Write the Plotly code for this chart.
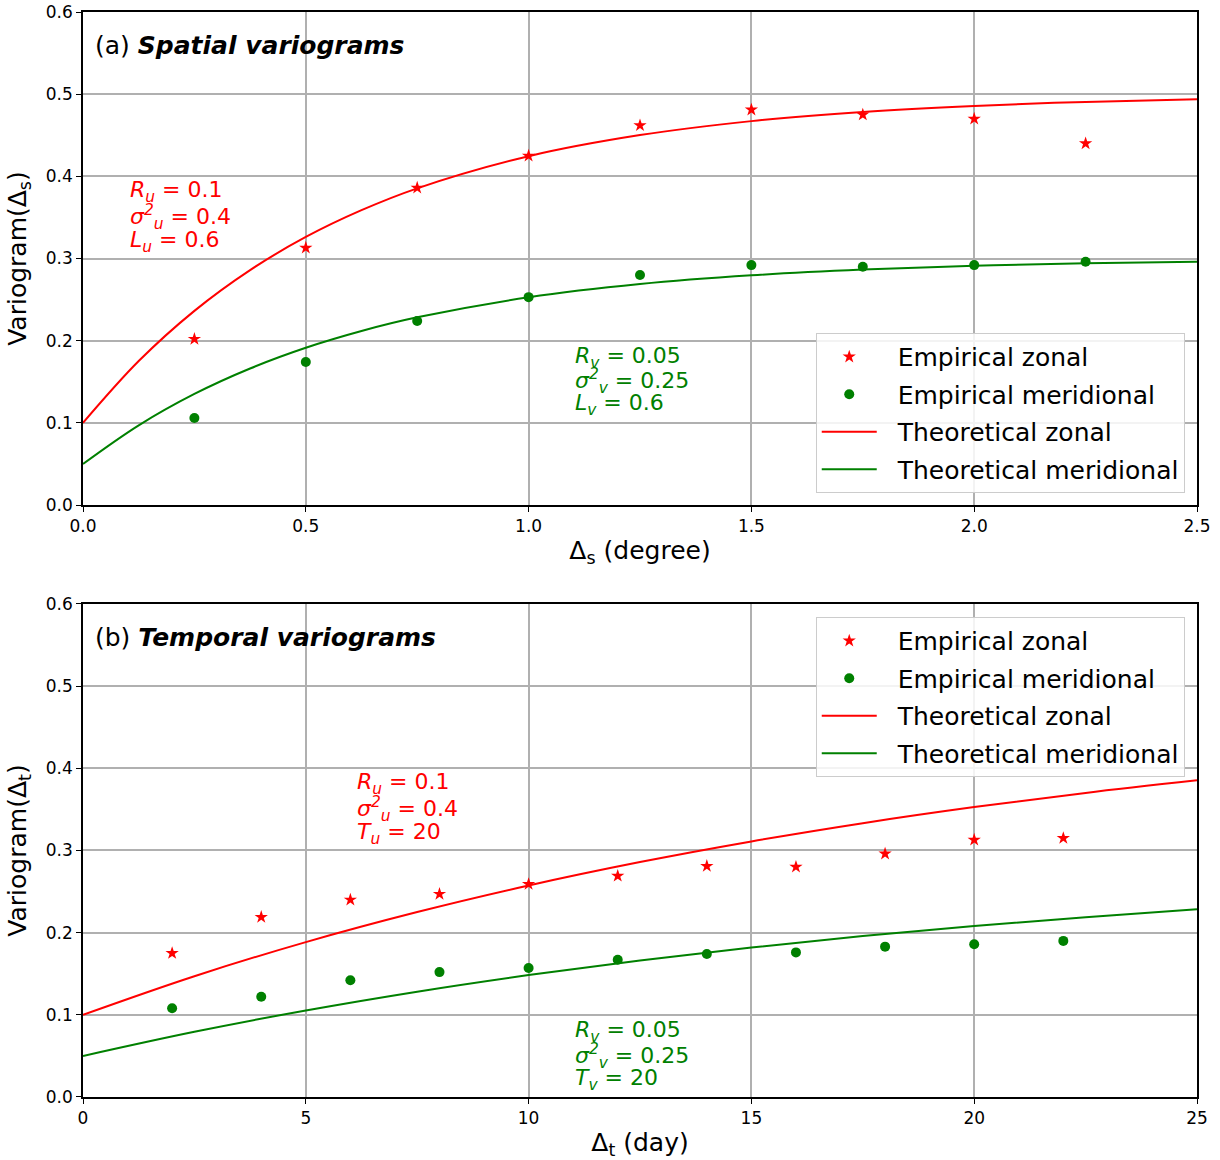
import plotly.graph_objects as go
from plotly.subplots import make_subplots

# ---- Panel (a): spatial ----
s_lag = [0.25, 0.5, 0.75, 1.0, 1.25, 1.5, 1.75, 2.0, 2.25]
s_emp_zonal = [0.202, 0.313, 0.386, 0.425, 0.462, 0.481, 0.475, 0.470, 0.440]
s_emp_merid = [0.106, 0.174, 0.224, 0.253, 0.280, 0.292, 0.290, 0.292, 0.296]
s_curve_x = [0, 0.125, 0.25, 0.375, 0.5, 0.625, 0.75, 1.0, 1.25, 1.5, 1.75, 2.0, 2.25, 2.5]
s_theo_zonal = [0.1, 0.1752, 0.2363, 0.2859, 0.3262, 0.3588, 0.3854, 0.4245, 0.4502, 0.4672, 0.4784, 0.4857, 0.4906, 0.4938]
s_theo_merid = [0.05, 0.0970, 0.1352, 0.1662, 0.1914, 0.2118, 0.2284, 0.2528, 0.2689, 0.2795, 0.2865, 0.2911, 0.2941, 0.2961]

# ---- Panel (b): temporal ----
t_lag = [2, 4, 6, 8, 10, 12, 14, 16, 18, 20, 22]
t_emp_zonal = [0.175, 0.219, 0.240, 0.247, 0.259, 0.269, 0.281, 0.280, 0.296, 0.313, 0.315]
t_emp_merid = [0.108, 0.122, 0.142, 0.152, 0.157, 0.167, 0.174, 0.176, 0.183, 0.186, 0.190]
t_curve_x = [0, 2.5, 5, 7.5, 10, 12.5, 15, 17.5, 20, 22.5, 25]
t_theo_zonal = [0.1, 0.1470, 0.1885, 0.2251, 0.2574, 0.2859, 0.3110, 0.3332, 0.3528, 0.3701, 0.3854]
t_theo_merid = [0.05, 0.0794, 0.1053, 0.1282, 0.1484, 0.1662, 0.1819, 0.1958, 0.2080, 0.2188, 0.2284]

# ---- Parameter labels ----
s_zonal_params = ["<i>R<sub>u</sub></i> = 0.1", "<i>σ<sup>2</sup><sub>u</sub></i> = 0.4", "<i>L<sub>u</sub></i> = 0.6"]
s_merid_params = ["<i>R<sub>v</sub></i> = 0.05", "<i>σ<sup>2</sup><sub>v</sub></i> = 0.25", "<i>L<sub>v</sub></i> = 0.6"]
t_zonal_params = ["<i>R<sub>u</sub></i> = 0.1", "<i>σ<sup>2</sup><sub>u</sub></i> = 0.4", "<i>T<sub>u</sub></i> = 20"]
t_merid_params = ["<i>R<sub>v</sub></i> = 0.05", "<i>σ<sup>2</sup><sub>v</sub></i> = 0.25", "<i>T<sub>v</sub></i> = 20"]

legend_names = ["Empirical zonal", "Empirical meridional", "Theoretical zonal", "Theoretical meridional"]

RED = "#ff0000"
GREEN = "#008000"
FONT = "DejaVu Sans"
PAD = "\u00a0\u00a0"

fig = make_subplots(rows=2, cols=1, vertical_spacing=0.0912)

def add_panel(row, xe, ez, em, xc, tz, tm, legend):
    fig.add_trace(go.Scatter(x=xe, y=ez, mode="markers", name=PAD + legend_names[0],
                             marker=dict(symbol="star", color=RED, size=10),
                             legend=legend, legendgroup=legend + "a"), row=row, col=1)
    fig.add_trace(go.Scatter(x=xe, y=em, mode="markers", name=PAD + legend_names[1],
                             marker=dict(symbol="circle", color=GREEN, size=10),
                             legend=legend, legendgroup=legend + "b"), row=row, col=1)
    fig.add_trace(go.Scatter(x=xc, y=tz, mode="lines", name=PAD + legend_names[2],
                             line=dict(color=RED, width=2, shape="spline"),
                             legend=legend, legendgroup=legend + "c"), row=row, col=1)
    fig.add_trace(go.Scatter(x=xc, y=tm, mode="lines", name=PAD + legend_names[3],
                             line=dict(color=GREEN, width=2, shape="spline"),
                             legend=legend, legendgroup=legend + "d"), row=row, col=1)

add_panel(1, s_lag, s_emp_zonal, s_emp_merid, s_curve_x, s_theo_zonal, s_theo_merid, "legend")
add_panel(2, t_lag, t_emp_zonal, t_emp_merid, t_curve_x, t_theo_zonal, t_theo_merid, "legend2")

axis_common = dict(showline=True, mirror=True, linecolor="black", linewidth=1.5,
                   ticks="outside", ticklen=5, tickwidth=1.2, tickcolor="black",
                   showgrid=True, gridcolor="#b0b0b0", gridwidth=1.5, zeroline=False,
                   automargin=False,
                   tickfont=dict(size=17, color="black", family=FONT))
fig.update_xaxes(**axis_common)
fig.update_yaxes(**axis_common)

fig.update_xaxes(range=[0, 2.5], dtick=0.5, tickformat=".1f",
                 title=dict(text="Δ<sub>s</sub> (degree)", font=dict(size=25), standoff=6), row=1, col=1)
fig.update_xaxes(range=[0, 25], dtick=5,
                 title=dict(text="Δ<sub>t</sub> (day)", font=dict(size=25), standoff=6), row=2, col=1)
fig.update_yaxes(range=[0, 0.6], dtick=0.1, tickformat=".1f",
                 title=dict(text="Variogram(Δ<sub>s</sub>)", font=dict(size=25), standoff=12), row=1, col=1)
fig.update_yaxes(range=[0, 0.6], dtick=0.1, tickformat=".1f",
                 title=dict(text="Variogram(Δ<sub>t</sub>)", font=dict(size=25), standoff=12), row=2, col=1)

legend_style = dict(font=dict(size=25, family=FONT, color="black"), bgcolor="rgba(255,255,255,0.85)",
                    bordercolor="#cccccc", borderwidth=1, xanchor="right", itemwidth=55,
                    tracegroupgap=2)

fig.update_layout(
    width=1220, height=1160,
    margin=dict(l=83, r=23, t=12, b=63, autoexpand=False),
    plot_bgcolor="white", paper_bgcolor="white",
    font=dict(family=FONT, color="black"),
    legend=dict(x=0.989, y=0.5567, yanchor="bottom", **legend_style),
    legend2=dict(x=0.989, y=0.4424, yanchor="top", **legend_style),
)

# Panel titles
fig.add_annotation(text="(a) <b><i>Spatial variograms</i></b>", xref="x domain", yref="y domain",
                   x=0.009, y=0.933, xanchor="left", yanchor="middle", showarrow=False,
                   font=dict(size=25, family=FONT, color="black"))
fig.add_annotation(text="(b) <b><i>Temporal variograms</i></b>", xref="x2 domain", yref="y2 domain",
                   x=0.009, y=0.933, xanchor="left", yanchor="middle", showarrow=False,
                   font=dict(size=25, family=FONT, color="black"))

# Parameter annotations, one line each
def param_block(lines, x, ys, xref, yref, color):
    for text, y in zip(lines, ys):
        fig.add_annotation(text=text, x=x, y=y, xref=xref, yref=yref, xanchor="left", yanchor="middle",
                           showarrow=False, align="left", font=dict(size=22, family=FONT, color=color))

param_block(s_zonal_params, 0.1, [0.381, 0.351, 0.321], "x", "y", RED)
param_block(s_merid_params, 1.1, [0.180, 0.151, 0.122], "x", "y", GREEN)
param_block(t_zonal_params, 6.1, [0.381, 0.351, 0.321], "x2", "y2", RED)
param_block(t_merid_params, 11.0, [0.080, 0.050, 0.021], "x2", "y2", GREEN)

fig.write_html("out.html", config={"displayModeBar": False},
               post_script="document.body.style.margin='0';")
